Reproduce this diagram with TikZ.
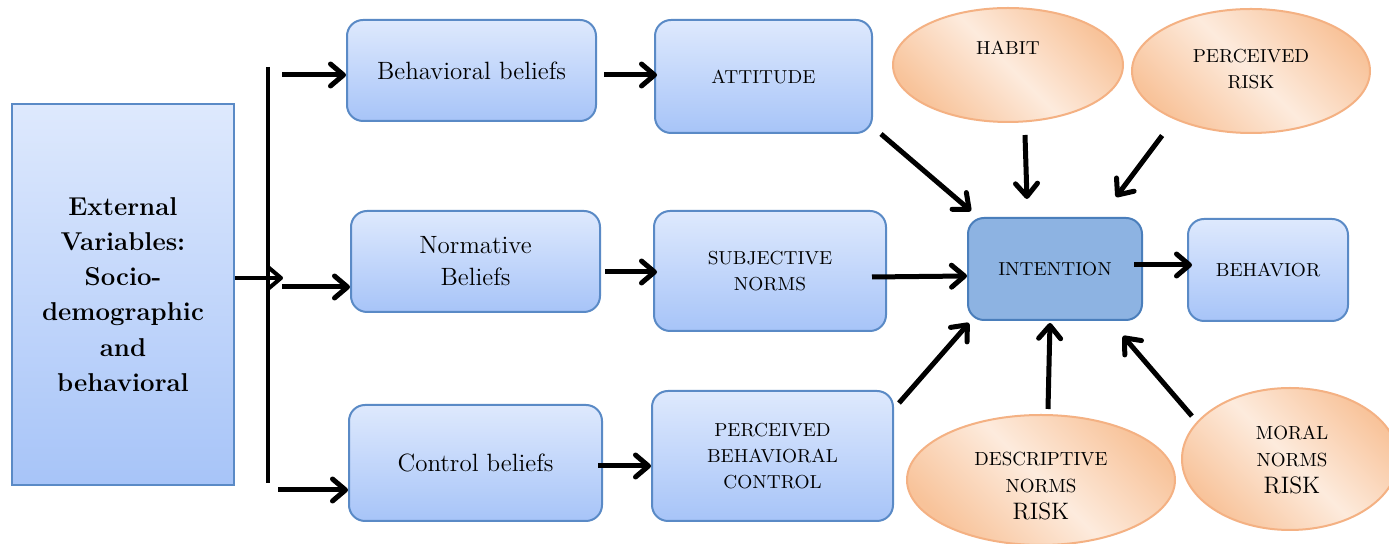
\documentclass[tikz,border=0pt]{standalone}
\usepackage{fontspec}
\usetikzlibrary{shapes.geometric,arrows.meta,calc}
\definecolor{bTop}{HTML}{DEE9FD}
\definecolor{bBot}{HTML}{A7C4F8}
\definecolor{bLine}{HTML}{5A8AC6}
\definecolor{iFill}{HTML}{8DB3E2}
\definecolor{iLine}{HTML}{4A7EBB}
\definecolor{oDark}{HTML}{F8C39A}
\definecolor{oLight}{HTML}{FDEBDD}
\definecolor{oLine}{HTML}{F4B183}
\begin{document}
\begin{tikzpicture}[x=0.5pt,y=-0.5pt,
 bluebox/.style={draw=bLine, line width=1pt, rounded corners=8pt, top color=bTop, bottom color=bBot, align=center, inner sep=2pt},
 oval/.style={ellipse, draw=oLine, line width=1pt, top color=oDark, bottom color=oDark, middle color=oLight, shading angle=-45, inner sep=0pt},
 arr/.style={line width=2.5pt, -{Straight Barb[length=6.5pt,width=11pt,round]}},
 fbig/.style={font=\fontsize{12.5}{16}\selectfont},
 fsmall/.style={font=\fontsize{9.4}{13}\selectfont},
 lbl/.style={align=center, inner sep=0pt},
]
\fill[white] (0,0) rectangle (1389,544);
\useasboundingbox (0,0) rectangle (1389,544);

% blue boxes
\node[bluebox, rounded corners=0pt, minimum width=111pt, minimum height=190.5pt,
      font=\bfseries\fontsize{12.9}{17.6}\selectfont] (ext) at (123,294.5)
      {External\\Variables:\\Socio-\\demographic\\and\\behavioral};
\node[bluebox, fbig, minimum width=124.5pt, minimum height=50.5pt] (bb) at (471.5,70.5) {Behavioral beliefs};
\node[bluebox, fsmall, minimum width=108.5pt, minimum height=56.5pt] (att) at (763.5,76.5) {ATTITUDE};
\node[bluebox, fbig, minimum width=124.5pt, minimum height=50.5pt] (nb) at (475.5,261.5) {Normative\\Beliefs};
\node[bluebox, fsmall, minimum width=116pt, minimum height=60pt] (sn) at (770,271) {SUBJECTIVE\\NORMS};
\node[bluebox, fbig, minimum width=126.5pt, minimum height=58pt] (cb) at (475.5,463) {Control beliefs};
\node[bluebox, fsmall, minimum width=120.5pt, minimum height=65pt] (pbc) at (772.5,456) {PERCEIVED\\BEHAVIORAL\\CONTROL};
\node[bluebox, fsmall, shade=false, fill=iFill, draw=iLine, minimum width=87pt, minimum height=51pt] (int) at (1055,269) {INTENTION};
\node[bluebox, fsmall, minimum width=80pt, minimum height=51pt] (beh) at (1268,270) {BEHAVIOR};

% ovals
\node[oval, minimum width=115pt, minimum height=57pt] (habit) at (1008,65) {};
\node[lbl, fsmall] (habitT) at (1008,48) {HABIT};
\node[oval, minimum width=119pt, minimum height=62pt] (prisk) at (1251,71) {};
\node[lbl, fsmall] (priskT) at (1251,69) {PERCEIVED\\RISK};
\node[oval, minimum width=134pt, minimum height=65pt] (desc) at (1041,480) {};
\node[lbl, font=\fontsize{9.5}{13.7}\selectfont] (descT) at (1041,486) {DESCRIPTIVE\\NORMS\\{\fontsize{11.9}{13}\selectfont RISK}};
\node[oval, minimum width=108pt, minimum height=71pt] (moral) at (1290,459) {};
\node[lbl, font=\fontsize{9.5}{13.5}\selectfont] (moralT) at (1292,460) {MORAL\\NORMS\\{\fontsize{11.9}{13}\selectfont RISK}};

% distribution bar
\coordinate (barT) at (268,67);
\coordinate (barB) at (268,483);
\draw[line width=2pt] (barT) -- (barB);
\coordinate (jn) at (283,278);
\draw[arr, line width=2pt] (ext.east |- jn) -- (jn);
\coordinate (s1) at (282,75);
\coordinate (s2) at (282,287);
\coordinate (s3) at (278,490);
\draw[arr] (s1) -- (s1 -| bb.west);
\draw[arr] (s2) -- (s2 -| nb.west);
\draw[arr] (s3) -- (s3 -| cb.west);

% belief -> construct arrows
\draw[arr] ($(bb.east)+(7,4.5)$) -- ($(att.west)+(3,-1.5)$);
\draw[arr] ($(nb.east)+(4,10.5)$) -- ($(sn.west)+(4,1)$);
\draw[arr] ($(cb.east)+(-5,3)$) -- ($(pbc.west)+(0,10)$);

% into intention
\draw[arr] ($(att.south east)+(8,0)$) -- ($(int.north west)+(4,-6)$);
\draw[arr] ($(sn.east)+(-15,6)$) -- ($(int.west)+(0,7)$);
\draw[arr] ($(pbc.north east)+(5,13)$) -- ($(int.south west)+(2,2)$);
\draw[arr] ($(habit.south)+(17,12)$) -- ($(int.north)+(-28,-18)$);
\draw[arr] ($(prisk.south west)+(-4,20)$) -- ($(int.north east)+(-27,-20)$);
\draw[arr] ($(desc.north)+(7,-5)$) -- ($(int.south)+(-5,2)$);
\draw[arr] ($(moral.north west)+(-21,8)$) -- ($(int.south east)+(-20,15)$);
\draw[arr] ($(int.east)+(-9,-4)$) -- ($(beh.west)+(5,-5)$);
\end{tikzpicture}
\end{document}
